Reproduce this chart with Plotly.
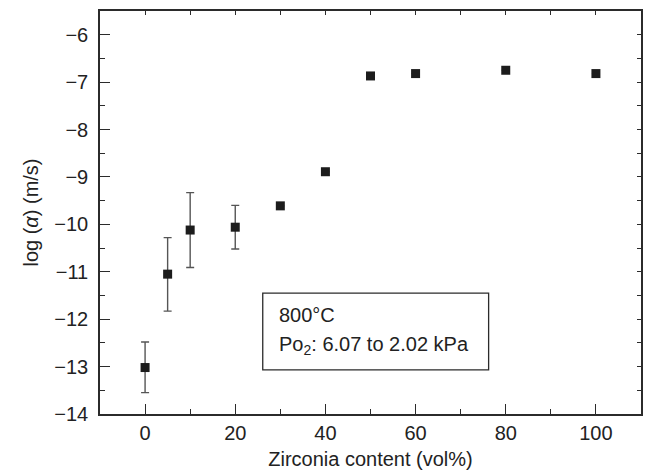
import plotly.graph_objects as go

# Zirconia content (vol%) and measured log(alpha) values
zirconia = [0, 5, 10, 20, 30, 40, 50, 60, 80, 100]
log_alpha = [-13.02, -11.05, -10.12, -10.06, -9.61, -8.89, -6.87, -6.82, -6.75, -6.82]
err_plus = [0.54, 0.77, 0.79, 0.46, 0, 0, 0, 0, 0, 0]
err_minus = [0.53, 0.78, 0.79, 0.46, 0, 0, 0, 0, 0, 0]

x_ticks = [0, 20, 40, 60, 80, 100]
y_ticks = [-14, -13, -12, -11, -10, -9, -8, -7, -6]

FONT = "Liberation Sans, Arial, sans-serif"
FONT_SIZE = 20
AXIS_COLOR = "#2b2b2b"
TEXT_COLOR = "#222222"
X_RANGE = [-10, 110]
Y_RANGE = [-14, -5.5]

fig = go.Figure()

fig.add_trace(go.Scatter(
    x=zirconia, y=log_alpha, mode="markers",
    marker=dict(symbol="square", size=9, color="#1c1c1c",
                line=dict(width=0)),
    error_y=dict(type="data", symmetric=False, array=err_plus,
                 arrayminus=err_minus, color="#555555", thickness=1.4,
                 width=4),
    showlegend=False,
))

# invisible trace so the mirrored top/right axes are rendered
fig.add_trace(go.Scatter(x=[None], y=[None], xaxis="x2", yaxis="y2",
                         showlegend=False, hoverinfo="skip"))

fig.update_layout(
    width=660, height=470,
    margin=dict(l=100, r=19, t=11, b=56),
    paper_bgcolor="white", plot_bgcolor="white",
    font=dict(family=FONT, size=FONT_SIZE, color=TEXT_COLOR),
    xaxis=dict(
        range=X_RANGE, tickvals=x_ticks, ticks="inside", ticklen=10,
        tickwidth=1.3, tickcolor=AXIS_COLOR, showline=True,
        linecolor=AXIS_COLOR, linewidth=1.5, showgrid=False, zeroline=False,
        ticklabelstandoff=0, automargin=False,
        minor=dict(dtick=10, tick0=0, ticks="inside", ticklen=5,
                   tickwidth=1.2, tickcolor=AXIS_COLOR, showgrid=False),
        title=dict(text="Zirconia content (vol%)", standoff=15,
                   font=dict(size=FONT_SIZE)),
    ),
    yaxis=dict(
        range=Y_RANGE, tickvals=y_ticks, ticktext=[f"\u2212{abs(v)}" for v in y_ticks],
        ticks="inside", ticklen=10, tickwidth=1.3, tickcolor=AXIS_COLOR,
        showline=True, linecolor=AXIS_COLOR, linewidth=1.5, showgrid=False,
        zeroline=False, ticklabelstandoff=6, automargin=False,
        minor=dict(dtick=0.5, tick0=0, ticks="inside", ticklen=5,
                   tickwidth=1.2, tickcolor=AXIS_COLOR, showgrid=False),
        title=dict(text="log (<i>\u03b1</i>) (m/s)", standoff=10,
                   font=dict(size=FONT_SIZE)),
    ),
    xaxis2=dict(
        overlaying="x", side="top", range=X_RANGE, dtick=10, tick0=0,
        ticks="inside", ticklen=4, tickwidth=1.1, tickcolor=AXIS_COLOR,
        showticklabels=False, showline=True, linecolor=AXIS_COLOR,
        linewidth=1.5, showgrid=False, zeroline=False, automargin=False,
    ),
    yaxis2=dict(
        overlaying="y", side="right", range=Y_RANGE, dtick=0.5, tick0=0,
        ticks="inside", ticklen=4, tickwidth=1.1, tickcolor=AXIS_COLOR,
        showticklabels=False, showline=True, linecolor=AXIS_COLOR,
        linewidth=1.5, showgrid=False, zeroline=False, automargin=False,
    ),
)

# condition box
fig.add_shape(type="rect", xref="x", yref="y", x0=26.1, x1=76.2,
              y0=-13.07, y1=-11.45, line=dict(color=AXIS_COLOR, width=1.3),
              fillcolor="white", layer="below")
fig.add_annotation(x=29.2, y=-11.92, xref="x", yref="y", text="800\u00b0C",
                   showarrow=False, xanchor="left", yanchor="middle",
                   font=dict(size=FONT_SIZE, color=TEXT_COLOR))
fig.add_annotation(x=29.2, y=-12.56, xref="x", yref="y",
                   text="Po<sub>2</sub>: 6.07 to 2.02 kPa",
                   showarrow=False, xanchor="left", yanchor="middle",
                   font=dict(size=FONT_SIZE, color=TEXT_COLOR))

fig.write_html("out.html")
